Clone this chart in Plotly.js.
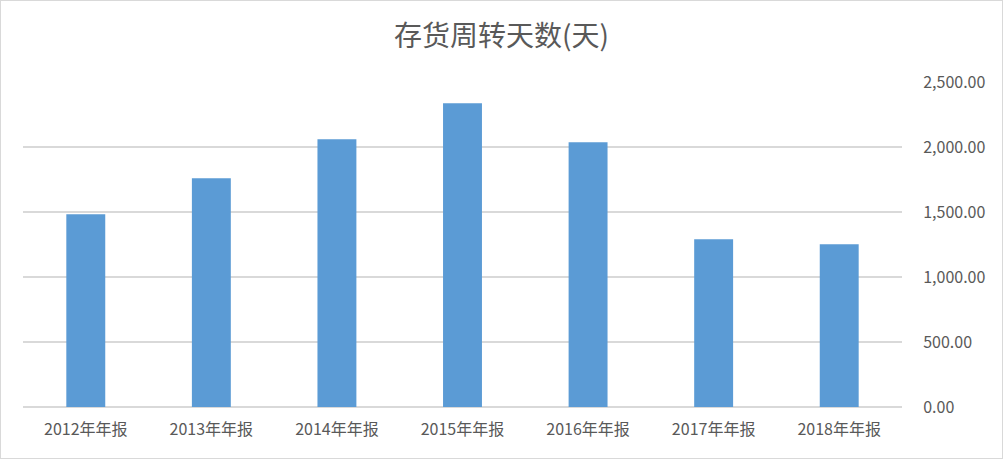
<!DOCTYPE html>
<html>
<head>
<meta charset="utf-8">
<script src="https://cdn.plot.ly/plotly-3.0.1.min.js"></script>
<style>
html,body{margin:0;padding:0;background:#fff;}
#wrap{width:1001px;height:457px;border:1px solid #d9d9d9;}
#chart{width:1001px;height:457px;}
</style>
</head>
<body>
<div id="wrap"><div id="chart"></div></div>
<script>
const categories = ["2012年年报","2013年年报","2014年年报","2015年年报","2016年年报","2017年年报","2018年年报"];
const turnoverDays = [1482, 1759, 2059, 2336, 2036, 1290, 1252];
const yTicks = [0, 500, 1000, 1500, 2000, 2500];
const yTickLabels = ["0.00","500.00","1,000.00","1,500.00","2,000.00","2,500.00"];
const chartTitle = "存货周转天数(天)";

const font = "'Noto Sans CJK SC', 'Noto Sans', sans-serif";
const textColor = "#595959";

Plotly.newPlot("chart", [{
  type: "bar",
  x: categories,
  y: turnoverDays,
  marker: {color: "#5b9bd5"},
  hoverinfo: "x+y"
}], {
  width: 1001,
  height: 457,
  margin: {l: 22, r: 100, t: 81, b: 51},
  paper_bgcolor: "#ffffff",
  plot_bgcolor: "#ffffff",
  bargap: 0.69,
  showlegend: false,
  font: {family: font, color: textColor, size: 16},
  title: {
    text: chartTitle,
    font: {family: font, size: 28, color: textColor},
    x: 0.5, xanchor: "center", xref: "container",
    y: 1 - 35/457, yanchor: "middle", yref: "container"
  },
  xaxis: {
    type: "category",
    showgrid: false,
    showline: false,
    zeroline: false,
    ticks: "outside",
    ticklen: 8,
    tickcolor: "rgba(0,0,0,0)",
    tickfont: {family: font, size: 16, color: textColor}
  },
  yaxis: {
    side: "right",
    range: [0, 2500],
    tickmode: "array",
    tickvals: yTicks,
    ticktext: yTickLabels,
    showgrid: true,
    gridcolor: "#d9d9d9",
    gridwidth: 1.5,
    zeroline: true,
    zerolinecolor: "#d9d9d9",
    zerolinewidth: 1.5,
    showline: false,
    ticks: "outside",
    ticklen: 17,
    tickcolor: "rgba(0,0,0,0)",
    tickfont: {family: font, size: 16, color: textColor}
  }
}, {displayModeBar: false, staticPlot: true});
</script>
</body>
</html>
